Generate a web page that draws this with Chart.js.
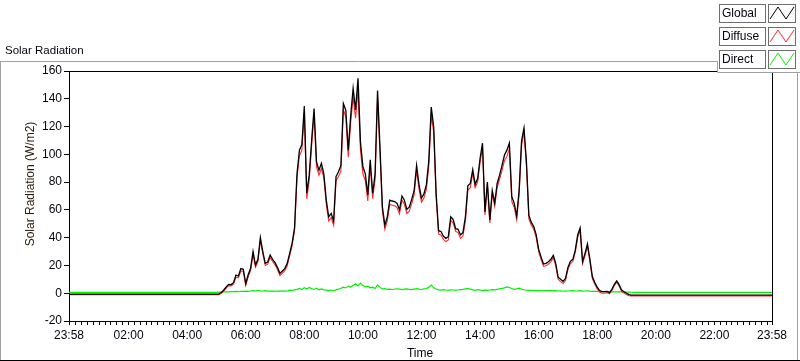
<!DOCTYPE html>
<html>
<head>
<meta charset="utf-8">
<title>Solar Radiation</title>
<script src="https://cdn.jsdelivr.net/npm/chart.js@4.4.1/dist/chart.umd.min.js"></script>
<style>
  html, body { margin: 0; padding: 0; background: #fff; }
  #wrap { position: relative; width: 800px; height: 361px; }
</style>
</head>
<body>
<div id="wrap"><canvas id="solarChart"></canvas></div>
<script>
// --- DATA ---
const seriesNames = ["Global", "Diffuse", "Direct"];
const seriesColors = ["#000000", "#ff2a2a", "#00f000"];
const tickLabels = ["23:58", "02:00", "04:00", "06:00", "08:00", "10:00", "12:00",
                    "14:00", "16:00", "18:00", "20:00", "22:00", "23:58"];

// readings: night anchor, 05:00, then every 5 min from 05:05 to 19:10, then 19:15 and 23:58
const firstSample = "05:05";
const lastSample = "19:10";
const sampleStep = 5;

const globalVals = [-0.6, -0.6,
  -0.5, 0.5, 2.3, 4.5, 6.4, 6.2, 7.6, 13, 12.4, 17.7, 17.2, 7, 13.3, 18, 30, 20.3, 24.4, 40, 30, 21.5,
  22.5, 27.5, 24.4, 22, 18.6, 14.3, 16, 17.7, 21.5, 28.7, 36, 47,
  86, 103, 107, 134.7, 72, 85, 110, 133, 94.6, 88.6, 93.5, 86, 67, 55, 57.5, 52, 84, 87.5, 92, 136.6,
  131.8, 103, 128, 147.5, 132, 154.7, 109, 91, 86, 70.7, 96, 72, 86,
  146, 105, 62, 49, 55, 67, 66.4, 66, 64.7, 60, 70, 67, 60.4, 62, 67.6, 74, 92, 78, 68.4, 71.5, 78,
  95.5, 134, 120, 72, 45, 44.4, 41, 39.5, 40.7, 55, 53,
  46.5, 46, 42, 43.8, 55, 77.4, 79, 89, 78.4, 82.6, 97, 108, 58.6, 80, 52.7, 74, 65, 79, 85, 92,
  99.5, 103, 108, 69.5, 64.7, 55.6, 74, 109.7, 119, 94.6, 56, 51, 48,
  42, 31.7, 26, 21, 21.5, 22.7, 24.4, 27.3, 21.5, 11.5, 10, 8.5, 10.7, 18.6, 23, 24.4, 31, 42, 47,
  22.7, 28.7, 35.5, 24.4, 12, 7.7, 4.3, 1.9, 1.1, 1.1, 1.3, 0.4, 2.8, 6.4, 8.8, 6, 2.2, 1.1, 0, -1, -1.3,
  -1.3, -1.3];

const diffuseVals = [-1.0, -1.0,
  -1, 0, 1.6, 3.6, 5.4, 5.3, 6.6,
  11.5, 11, 16, 15.8, 5.6, 11.8, 16.5, 28, 18.8, 22.8, 38, 28.3, 20, 20.9, 25.8, 22.8, 20.5, 17, 12.8,
  14.5, 16.2, 19.8, 27, 34, 45,
  83, 99, 103, 130, 68, 81, 106, 129, 91, 85, 90, 83, 64, 52, 54.5, 49, 81, 84, 88, 132, 127, 98, 123,
  141, 126, 147, 103, 86, 81, 66.5, 92, 68, 82,
  140, 101, 59, 46, 52, 64, 63.4, 63, 61.6, 57, 67, 64, 57.4, 59, 64.5, 71, 88.5, 75, 65.6, 68.5, 74.7,
  91.5, 128, 116, 69, 42.5, 42, 38.7, 37.2, 38.3, 52.5, 50.5,
  44.5, 43.7, 39.5, 41.2, 52, 74, 76, 86.5, 76, 80, 94, 105, 56.4, 77.8, 50.5, 71.5, 62.6, 76, 82, 88.5,
  95.5, 98.5, 104, 66, 61.9, 53, 71, 106.5, 116, 91.7, 53.5, 49, 46,
  40, 30, 24.3, 19.3, 19.7, 21, 22.6, 25.6, 19.7, 10, 8.4, 7, 9.1, 17, 21.3, 22.8, 29.4, 40.2, 45.2, 21.2,
  27, 33.8, 22.9, 10.6, 6.4, 3.1, 0.8, 0, 0, 0.3, -0.5, 1.8, 5.5, 7.9, 5.1, 1.2, 0.1, -1, -1.8, -2,
  -2.0, -2.0];

const directVals = [0.6, 0.6,
  0.8, 0.8, 0.9, 1.0, 1.0, 1.2, 1.1, 1.3, 1.2, 1.4, 1.3,
  1.5, 1.4, 1.6, 1.8, 1.5, 2.0, 1.7, 1.6, 1.8, 1.5,
  1.6, 1.5, 1.4, 1.6, 1.5, 1.5, 1.5, 1.6, 2.2, 2.0, 2.4,
  2.8, 3.5, 2.6, 3.9, 3.0, 4.2, 3.3, 2.7, 3.6, 2.5, 3.1, 2.4, 2.2, 1.9, 2.3, 1.8, 2.4, 2.9, 3.6, 4.4,
  3.8, 5.1, 4.3, 5.6, 6.8, 5.2, 7.2, 5.5, 4.6, 5.1, 3.9, 4.4, 3.4,
  6.0, 4.2, 3.1, 3.3, 2.8, 3.0, 2.7, 2.9, 3.2, 3.0, 2.6, 2.9, 3.1, 2.8, 2.6, 3.0, 3.3, 2.9, 2.7, 3.1,
  3.4, 4.2, 5.8, 3.9, 3.0, 2.4, 2.2, 2.6, 2.3, 2.1, 2.5, 2.3,
  2.0, 2.3, 2.6, 2.8, 3.1, 3.3, 2.9, 2.4, 2.1, 2.6, 2.3, 1.9, 2.2, 2.0, 2.3, 2.6, 2.4, 2.8, 3.2, 3.5,
  3.9, 4.5, 4.1, 3.4, 2.8, 3.1, 3.6, 2.9, 2.5, 2.2, 2.0, 2.1, 1.9,
  1.9, 1.8, 1.9, 1.7, 1.8, 1.8, 1.9, 1.7, 1.8, 1.6, 1.7, 1.6, 1.5, 1.6, 1.7, 1.8, 1.6, 1.7, 1.9, 1.5,
  1.6, 1.7, 1.5, 1.4, 1.3, 1.3, 1.2, 1.2, 1.1, 1.1, 1.0, 1.0, 1.0, 0.9, 0.9, 0.9, 0.8, 0.8, 0.8, 0.7,
  0.6, 0.6];

// --- TIME AXIS (minutes since 23:58 of the previous day) ---
const toMin = s => { const p = s.split(":"); return +p[0] * 60 + +p[1]; };
const pad = n => String(n).padStart(2, "0");
const fmt = m => pad(Math.floor(m / 60)) + ":" + pad(m % 60);

const times = ["23:58", "05:00"];
for (let m = toMin(firstSample); m <= toMin(lastSample); m += sampleStep) times.push(fmt(m));
times.push("19:15", "23:58");

const timeX = times.map((t, i) => i === 0 ? 0 : (i === times.length - 1 ? 1440 : toMin(t) + 2));
const labelX = tickLabels.map((t, i) => i === 0 ? 0 : (i === tickLabels.length - 1 ? 1440 : toMin(t) + 2));

const FONT = "'Liberation Sans', Arial, sans-serif";
const TEXT = "#050510";

// --- FRAME, TITLES, LEGEND ---
const decor = {
    id: "decor",
    afterDraw(chart) {
        const ctx = chart.ctx;
        const a = chart.chartArea;
        ctx.save();
        ctx.lineWidth = 1;

        // plot box top and right
        ctx.strokeStyle = "#000";
        ctx.beginPath();
        ctx.moveTo(a.left, a.top + 0.5); ctx.lineTo(a.right + 1, a.top + 0.5);
        ctx.moveTo(a.right + 0.5, a.top); ctx.lineTo(a.right + 0.5, a.bottom);
        ctx.stroke();

        // outer frame
        ctx.strokeStyle = "#a0a0a0";
        ctx.beginPath();
        ctx.moveTo(0, 61.5); ctx.lineTo(717.5, 61.5); ctx.lineTo(717.5, 72.5); ctx.lineTo(800, 72.5);
        ctx.moveTo(0.5, 61); ctx.lineTo(0.5, 360);
        ctx.moveTo(797.5, 72); ctx.lineTo(797.5, 360);
        ctx.stroke();
        ctx.fillStyle = "#fff";
        ctx.fillRect(718, 0, 82, 72);
        ctx.strokeStyle = "#000";
        ctx.beginPath();
        ctx.moveTo(0, 360.5); ctx.lineTo(800, 360.5);
        ctx.stroke();

        // titles
        ctx.fillStyle = TEXT;
        ctx.font = "11.5px " + FONT;
        ctx.textBaseline = "middle";
        ctx.textAlign = "left";
        ctx.fillText("Solar Radiation", 5, 51);
        ctx.font = "12px " + FONT;
        ctx.textAlign = "center";
        ctx.fillText("Time", 420, 354);
        ctx.save();
        ctx.translate(31, 184);
        ctx.rotate(-Math.PI / 2);
        ctx.fillStyle = "#2a1a0a";
        ctx.fillText("Solar Radiation (W/m2)", 0, 0);
        ctx.restore();

        // legend
        seriesNames.forEach((name, i) => {
            const y = 4 + i * 23;
            ctx.fillStyle = "#fff";
            ctx.fillRect(719, y, 46, 18);
            ctx.fillRect(768, y, 27, 18);
            ctx.strokeStyle = "#6e6e6e";
            ctx.strokeRect(719.5, y + 0.5, 46, 18);
            ctx.strokeRect(768.5, y + 0.5, 27, 18);
            ctx.fillStyle = TEXT;
            ctx.textAlign = "left";
            ctx.font = "12px " + FONT;
            ctx.fillText(name, 722, y + 10);
            ctx.strokeStyle = seriesColors[i];
            ctx.beginPath();
            ctx.moveTo(770, y + 15); ctx.lineTo(778, y + 3); ctx.lineTo(786, y + 15); ctx.lineTo(794, y + 3);
            ctx.stroke();
        });
        ctx.restore();
    }
};

function makeSeries(vals, i, width) {
    return {
        label: seriesNames[i],
        data: vals.map((v, k) => ({ x: timeX[k], y: v })),
        borderColor: seriesColors[i],
        borderWidth: width,
        pointRadius: 0,
        tension: 0,
        fill: false
    };
}

new Chart(document.getElementById("solarChart"), {
    type: "line",
    data: {
        datasets: [
            makeSeries(globalVals, 0, 1.3),
            makeSeries(diffuseVals, 1, 1.1),
            makeSeries(directVals, 2, 1.2)
        ]
    },
    options: {
        responsive: true,
        maintainAspectRatio: false,
        animation: false,
        events: [],
        layout: { padding: { top: 71, right: 28, left: 0, bottom: 0 } },
        plugins: { legend: { display: false }, tooltip: { enabled: false } },
        scales: {
            x: {
                type: "linear",
                min: 0,
                max: 1440,
                afterBuildTicks: s => {
                    const ticks = [{ value: 0 }];
                    for (let m = 2; m <= 1430; m += 12) ticks.push({ value: m });
                    ticks.push({ value: 1440 });
                    s.ticks = ticks;
                },
                afterFit: s => { s.height = 40; },
                ticks: {
                    autoSkip: false,
                    maxRotation: 0,
                    padding: 3,
                    color: TEXT,
                    font: { family: FONT, size: 12 },
                    callback: v => {
                        const k = labelX.indexOf(v);
                        return k >= 0 ? tickLabels[k] : "";
                    }
                },
                grid: { drawOnChartArea: false, tickLength: 4, color: "#000" },
                border: { color: "#000" }
            },
            y: {
                min: -20,
                max: 160,
                afterFit: s => { s.width = 69; },
                ticks: {
                    stepSize: 20,
                    padding: 2,
                    color: TEXT,
                    font: { family: FONT, size: 12 }
                },
                grid: { drawOnChartArea: false, tickLength: 5, color: "#000" },
                border: { color: "#000" }
            }
        }
    },
    plugins: [decor]
});
</script>
</body>
</html>
